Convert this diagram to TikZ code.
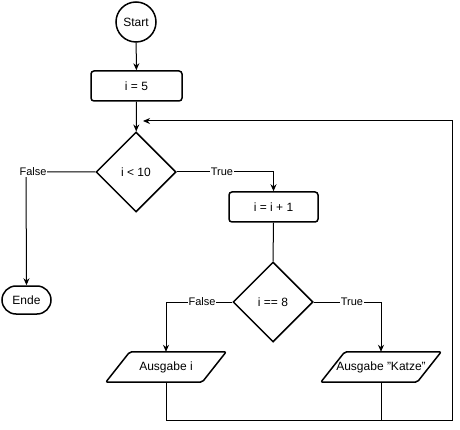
\documentclass[tikz,border=0pt]{standalone}
\usepackage{fontspec}
\setmainfont{Liberation Sans}
\usetikzlibrary{shapes.geometric,arrows.meta}
\begin{document}
\begin{tikzpicture}[x=1pt,y=-1pt,
  shp/.style={draw,line width=1.5pt,font=\fontsize{12}{14}\selectfont,inner sep=0pt},
  procbox/.style={shp,rounded corners=3pt,minimum height=30pt},
  decision/.style={shp,diamond,minimum width=80pt,minimum height=80pt,aspect=1},
  iobox/.style={font=\fontsize{12}{14}\selectfont,inner sep=0pt,minimum width=120pt,minimum height=30pt},
  pline/.style={line width=1.5pt,rounded corners=2pt},
  conn/.style={line width=1pt},
  arr/.style={conn,-{Stealth[length=7pt,width=6pt]}},
  lbl/.style={fill=white,inner sep=1pt,font=\fontsize{11}{13}\selectfont}]
\useasboundingbox (0,0) rectangle (460,430);
\node[shp,circle,minimum size=40pt] (start) at (136,22) {Start};
\node[procbox,minimum width=91pt] (i5) at (136.5,86) {i = 5};
\node[decision] (d1) at (136,172) {i < 10};
\node[shp,rounded corners=14pt,minimum width=49pt,minimum height=28pt] (ende) at (26.5,300) {Ende};
\node[procbox,minimum width=89pt] (inc) at (273.5,207) {i = i + 1};
\node[decision] (d2) at (273,302) {i == 8};
\node[iobox] (out1) at (166,367) {Ausgabe i};
\node[iobox] (out2) at (381,367) {Ausgabe "Katze"};
\foreach \n in {out1,out2}{
  \draw[pline] ([xshift=24pt]\n.north west) -- (\n.north east) -- ([xshift=-24pt]\n.south east) -- (\n.south west) -- cycle;
}
\coordinate (fc) at (26,172);
\coordinate (tc) at (273.5,172);
\coordinate (f2) at (166,302);
\coordinate (t2) at (381,302);
\coordinate (b1) at (166,420);
\coordinate (b2) at (381,420);
\coordinate (br) at (452,420);
\coordinate (tr) at (452,121);
\coordinate (ret) at (143,121);
\draw[arr] (start) -- (i5);
\draw[arr] (i5) -- (d1);
\draw[arr] (d1.west) -- (fc) -- (ende.north);
\node[lbl] at (33,172) {False};
\draw[arr] (d1.east) -- (tc) -- (inc.north);
\node[lbl] at (222,172) {True};
\draw[conn] (inc.south) -- (d2.north);
\draw[arr] (d2.west) -- (f2) -- (out1.north);
\node[lbl] at (202,302) {False};
\draw[arr] (d2.east) -- (t2) -- (out2.north);
\node[lbl] at (352,302) {True};
\draw[arr] (out1.south) -- (b1) -- (br) -- (tr) -- (ret);
\draw[conn] (out2.south) -- (b2);
\end{tikzpicture}
\end{document}
